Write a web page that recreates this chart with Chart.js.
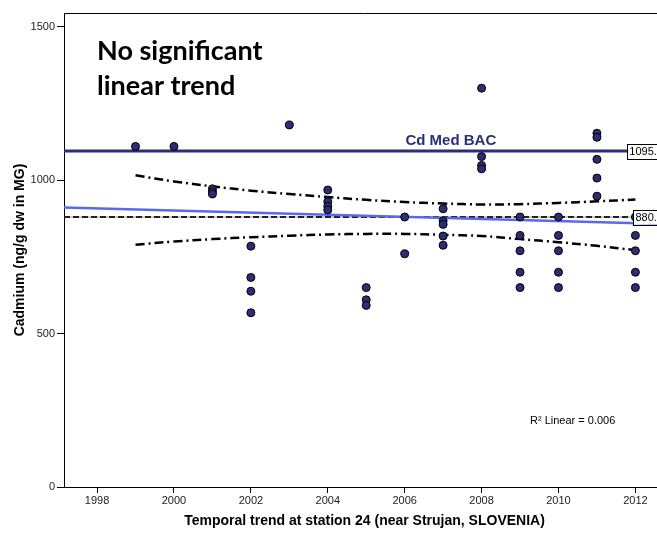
<!DOCTYPE html>
<html>
<head>
<meta charset="utf-8">
<script src="https://cdn.jsdelivr.net/npm/chart.js@4.4.1/dist/chart.umd.min.js"></script>
<style>
    html, body { margin: 0; padding: 0; background: #fff; overflow: hidden; }
    #wrap { width: 657px; height: 538px; overflow: hidden; }
</style>
</head>
<body>
<div id="wrap"><canvas id="trendChart" width="675" height="538"></canvas></div>
<script>
// Cd samples per year
const sampleYears = [
    1999, 2000, 2001, 2001, 2001, 2002, 2002, 2002, 2002, 2003,
    2004, 2004, 2004, 2004, 2005, 2005, 2005, 2006, 2006,
    2007, 2007, 2007, 2007, 2007, 2008, 2008, 2008, 2008,
    2009, 2009, 2009, 2009, 2009, 2010, 2010, 2010, 2010, 2010,
    2011, 2011, 2011, 2011, 2011, 2012, 2012, 2012, 2012, 2012
];
const cadmium = [
    1110, 1110, 972, 962, 955, 785, 683, 638, 568, 1180,
    968, 930, 915, 903, 650, 610, 592, 880, 760,
    907, 867, 856, 818, 788, 1300, 1077, 1048, 1037,
    880, 820, 770, 700, 650, 880, 820, 770, 700, 650,
    1153, 1140, 1068, 1007, 948, 880, 820, 770, 700, 650
];

// linear fit (end points) and its 95% band
const fitYears = [1997.14, 2012.77];
const fitValues = [911, 857];
const ciYears = [1999, 2000, 2001, 2002, 2003, 2004, 2005, 2006, 2007, 2008, 2009, 2010, 2011, 2012];
const ciUpper = [1016, 996, 980, 966, 955, 945, 936, 929, 924, 921, 922, 926, 931, 937];
const ciLower = [790, 800, 808, 814, 819, 823, 825, 825, 822, 818, 808, 798, 786, 772];

const BAC = 1095;
const MEDIAN = 880;
const xTicks = [1998, 2000, 2002, 2004, 2006, 2008, 2010, 2012];
const yTicks = [0, 500, 1000, 1500];
const X_MIN = 1997.14, X_MAX = 2012.77;
const Y_MIN = 0, Y_MAX = 1545;

const ARIAL = '"Liberation Sans", Arial, sans-serif';
const NAVY = '#2b2e74';

const toPoints = (xs, ys) => xs.map((x, i) => ({ x, y: ys[i] }));
const flat = v => [{ x: X_MIN, y: v }, { x: X_MAX, y: v }];

function drawValueBox(ctx, text, right, yPix) {
    ctx.font = '11px ' + ARIAL;
    const w = ctx.measureText(text).width + 4;
    const h = 15;
    const left = right - w;
    ctx.fillStyle = '#fff';
    ctx.fillRect(left, yPix - h / 2, w, h);
    ctx.strokeStyle = '#000';
    ctx.lineWidth = 1;
    ctx.strokeRect(Math.round(left) + 0.5, Math.round(yPix - h / 2) + 0.5, w, h);
    ctx.fillStyle = '#000';
    ctx.textBaseline = 'middle';
    ctx.textAlign = 'left';
    ctx.fillText(text, left + 2, yPix + 1);
}

const annotations = {
    id: 'annotations',
    afterDatasetsDraw(chart) {
        const { ctx, chartArea, scales: { x, y } } = chart;
        ctx.save();

        // top frame line
        ctx.strokeStyle = '#000';
        ctx.lineWidth = 1;
        ctx.beginPath();
        ctx.moveTo(chartArea.left, chartArea.top + 0.5);
        ctx.lineTo(chartArea.right, chartArea.top + 0.5);
        ctx.stroke();

        drawValueBox(ctx, BAC.toFixed(1), chartArea.right, y.getPixelForValue(BAC));
        drawValueBox(ctx, MEDIAN.toFixed(1), chartArea.right, y.getPixelForValue(MEDIAN));

        ctx.fillStyle = NAVY;
        ctx.font = 'bold 15px ' + ARIAL;
        ctx.textAlign = 'center';
        ctx.textBaseline = 'alphabetic';
        ctx.fillText('Cd Med BAC', x.getPixelForValue(2007.2), y.getPixelForValue(BAC) - 6);

        ctx.fillStyle = '#000';
        ctx.font = 'bold 27px Lato, "Open Sans", sans-serif';
        ctx.textAlign = 'left';
        ctx.fillText('No significant', 97, 60);
        ctx.fillText('linear trend', 97, 95);

        ctx.font = '11px ' + ARIAL;
        ctx.fillText('R\u00B2 Linear = 0.006', 530, 424);
        ctx.restore();
    }
};

new Chart(document.getElementById('trendChart').getContext('2d'), {
    type: 'scatter',
    data: {
        datasets: [
            {
                label: 'Cadmium',
                data: toPoints(sampleYears, cadmium),
                pointRadius: 4,
                pointBackgroundColor: NAVY,
                pointBorderColor: '#000',
                pointBorderWidth: 1,
                showLine: false,
            },
            {
                label: 'CI upper',
                data: toPoints(ciYears, ciUpper),
                showLine: true,
                borderColor: '#000',
                borderWidth: 2.5,
                borderDash: [9, 4, 2, 4],
                tension: 0.4,
                pointRadius: 0,
            },
            {
                label: 'CI lower',
                data: toPoints(ciYears, ciLower),
                showLine: true,
                borderColor: '#000',
                borderWidth: 2.5,
                borderDash: [9, 4, 2, 4],
                tension: 0.4,
                pointRadius: 0,
            },
            {
                label: 'Linear fit',
                data: toPoints(fitYears, fitValues),
                showLine: true,
                borderColor: '#5a68f0',
                borderWidth: 2.5,
                pointRadius: 0,
            },
            {
                label: 'Median',
                data: flat(MEDIAN),
                showLine: true,
                borderColor: '#222',
                borderWidth: 2,
                borderDash: [6, 3],
                pointRadius: 0,
            },
            {
                label: 'Median base',
                data: flat(MEDIAN),
                showLine: true,
                borderColor: '#999',
                borderWidth: 1,
                pointRadius: 0,
            },
            {
                label: 'Cd Med BAC',
                data: flat(BAC),
                showLine: true,
                borderColor: NAVY,
                borderWidth: 3,
                pointRadius: 0,
            },
        ]
    },
    options: {
        responsive: false,
        animation: false,
        devicePixelRatio: 1,
        layout: { padding: { top: 13, right: 10, left: 0, bottom: 0 } },
        plugins: { legend: { display: false }, tooltip: { enabled: false } },
        scales: {
            x: {
                type: 'linear',
                min: X_MIN,
                max: X_MAX,
                afterFit: s => { s.height = 51; },
                afterBuildTicks: s => { s.ticks = xTicks.map(v => ({ value: v })); },
                grid: { drawOnChartArea: false, drawTicks: true, tickLength: 6, color: '#000' },
                border: { color: '#000', width: 1 },
                ticks: {
                    font: { family: ARIAL, size: 11 }, color: '#222', padding: 1,
                    maxRotation: 0, autoSkip: false, callback: v => String(v)
                },
                title: {
                    display: true,
                    text: 'Temporal trend at station 24 (near Strujan, SLOVENIA)',
                    font: { family: ARIAL, size: 14, weight: 'bold' },
                    color: '#000',
                    padding: { top: 0, bottom: 8 }
                }
            },
            y: {
                min: Y_MIN,
                max: Y_MAX,
                afterFit: s => { s.width = 64; },
                afterBuildTicks: s => { s.ticks = yTicks.map(v => ({ value: v })); },
                grid: { drawOnChartArea: false, drawTicks: true, tickLength: 7, color: '#000' },
                border: { color: '#000', width: 1 },
                ticks: { font: { family: ARIAL, size: 11 }, color: '#222', padding: 2, callback: v => String(v) },
                title: {
                    display: true,
                    text: 'Cadmium (ng/g dw in MG)',
                    font: { family: ARIAL, size: 14, weight: 'bold' },
                    color: '#000',
                    padding: { top: 12, bottom: 0 }
                }
            }
        }
    },
    plugins: [annotations]
});
</script>
</body>
</html>
